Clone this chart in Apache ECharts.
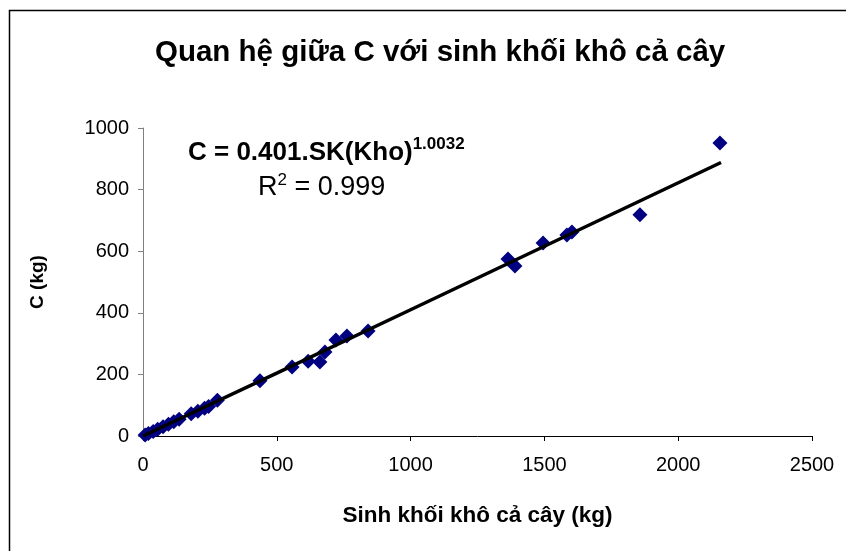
<!DOCTYPE html>
<html>
<head>
<meta charset="utf-8">
<script src="https://cdn.jsdelivr.net/npm/echarts@6/dist/echarts.min.js"></script>
<style>
  html, body { margin: 0; padding: 0; background: #fff; }
  #chart { width: 846px; height: 551px; }
</style>
</head>
<body>
<div id="chart"></div>
<script>
// sinh khoi kho (kg) vs C (kg)
const biomass = [8, 20, 38, 55, 75, 95, 115, 135, 180, 205, 230, 245, 278,
  437, 557, 617, 661, 680, 721, 762, 841,
  1364, 1390, 1495, 1584, 1603, 1857, 2156]
const carbon = [3, 8, 15, 22, 30, 38, 46, 54, 72, 80, 90, 96, 116,
  179, 224, 243, 240, 273, 312, 325, 341,
  575, 552, 627, 653, 662, 718, 951]

// power trendline as drawn (C = 0.401.SK^1.0032)
const trendX = [0, 500, 1000, 1500, 2160]
const trendY = [0, 204, 410, 616, 888]

const xTicks = [0, 500, 1000, 1500, 2000, 2500]
const yTicks = [0, 200, 400, 600, 800, 1000]

const chart = echarts.init(document.getElementById('chart'))

const font = 'Liberation Sans, Arial, sans-serif'

chart.setOption({
  animation: false,
  backgroundColor: '#fff',
  textStyle: { fontFamily: font },
  title: {
    text: 'Quan hệ giữa C với sinh khối khô cả cây',
    left: 150,
    top: 33,
    textStyle: { fontSize: 29.5, fontWeight: 'bold', color: '#000', fontFamily: font },
  },
  graphic: [
    {
      type: 'rect',
      shape: { x: 9.5, y: 10.5, width: 900, height: 600 },
      style: { fill: 'none', stroke: '#000', lineWidth: 1.5 },
      silent: true,
    },
    {
      type: 'text',
      left: 188,
      top: 136,
      style: {
        text: '{b|C = 0.401.SK(Kho)}{s|1.0032}',
        rich: {
          b: { fontSize: 26, fontWeight: 'bold', fill: '#000', fontFamily: font },
          s: { fontSize: 17, fontWeight: 'bold', fill: '#000', fontFamily: font, padding: [0, 0, 16, 0] },
        },
      },
    },
    {
      type: 'text',
      left: 258,
      top: 172,
      style: {
        text: '{n|R}{s|2}{n| = 0.999}',
        rich: {
          n: { fontSize: 27, fill: '#000', fontFamily: font },
          s: { fontSize: 17, fill: '#000', fontFamily: font, padding: [0, 0, 14, 0] },
        },
      },
    },
  ],
  grid: { left: 143, right: 34, top: 128, bottom: 115 },
  xAxis: {
    type: 'value',
    min: 0,
    max: 2500,
    interval: 500,
    name: 'Sinh khối khô cả cây (kg)',
    nameLocation: 'middle',
    nameGap: 68,
    nameTextStyle: { fontSize: 22.5, fontWeight: 'bold', color: '#000', fontFamily: font },
    axisLine: { lineStyle: { color: '#000', width: 1 } },
    axisTick: { show: true, length: 5, inside: false, lineStyle: { color: '#000' } },
    axisLabel: {
      color: '#000', fontSize: 20, margin: 19, fontFamily: font,
      formatter: (v) => (xTicks.includes(v) ? String(v) : ''),
    },
    splitLine: { show: false },
  },
  yAxis: {
    type: 'value',
    min: 0,
    max: 1000,
    interval: 200,
    name: 'C (kg)',
    nameLocation: 'middle',
    nameGap: 96,
    nameRotate: 90,
    nameTextStyle: { fontSize: 19, fontWeight: 'bold', color: '#000', fontFamily: font },
    axisLine: { show: true, lineStyle: { color: '#808080', width: 1 } },
    axisTick: { show: true, length: 5, lineStyle: { color: '#808080' } },
    axisLabel: {
      color: '#000', fontSize: 20, margin: 14, fontFamily: font,
      formatter: (v) => (yTicks.includes(v) ? String(v) : ''),
    },
    splitLine: { show: false },
  },
  series: [
    {
      name: 'trend',
      type: 'line',
      data: trendX.map((x, i) => [x, trendY[i]]),
      showSymbol: false,
      lineStyle: { color: '#000', width: 3.5 },
      z: 3,
    },
    {
      name: 'C',
      type: 'scatter',
      data: biomass.map((x, i) => [x, carbon[i]]),
      symbol: 'diamond',
      symbolSize: 15,
      itemStyle: { color: '#000080', opacity: 1 },
      z: 2,
    },
  ],
})
</script>
</body>
</html>
